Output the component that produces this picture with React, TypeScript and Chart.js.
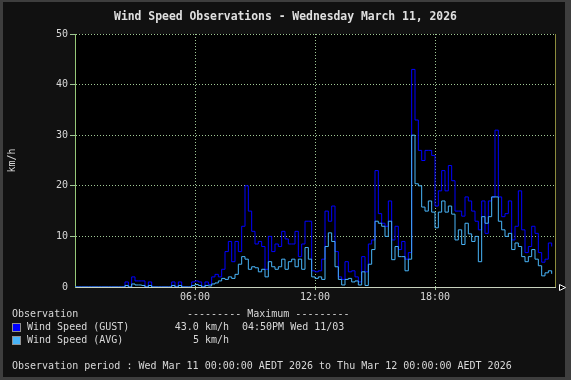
import { useEffect, useRef } from 'react';
import { Chart, registerables } from 'chart.js';

Chart.register(...registerables);

// Wind observations every 10 minutes from 00:00 (km/h)
const gust = [
  0, 0, 0, 0, 0, 0, 0, 0, 0, 0, 0, 0, 0, 0, 0, 1, 0, 2, 1.2, 1.2,
  1.2, 0, 1, 0, 0, 0, 0, 0, 0, 1, 0, 1, 0, 0, 0, 1, 1.2, 1, 0, 1,
  0.5, 2, 2.5, 2, 3.5, 7, 9, 5, 9, 7, 12, 20, 15, 11, 8.5, 9, 8, 3.5, 10, 7,
  8.5, 8, 11, 9.5, 8.5, 8.5, 11, 6, 8.5, 13, 13, 3.2, 3, 3.2, 5.5, 15, 13, 16, 7, 2,
  1.5, 5, 3, 3.2, 2, 1, 6, 3, 8.5, 9.3, 23, 14.5, 12.6, 12, 17, 9.3, 12, 7.4, 9, 5.5,
  6.8, 43, 33, 27, 25, 27, 27, 26, 16, 19, 23, 19, 24, 21, 15, 15, 14, 17.8, 17, 15,
  13, 11.3, 17, 10.6, 17, 17.8, 31, 17.8, 13.9, 14.5, 17, 9.3, 12, 19, 11.3, 6.8, 8, 12, 10.6, 6.8,
  4.9, 5.5, 8.7, 8,
];

const avg = [
  0, 0, 0, 0, 0, 0, 0, 0, 0, 0, 0, 0, 0, 0, 0, 0.3, 0, 0.6, 0.4, 0.4,
  0.3, 0, 0.3, 0, 0, 0, 0, 0, 0, 0.3, 0, 0.3, 0, 0, 0, 0.3, 0.5, 0.3, 0, 0.3,
  0.2, 0.6, 0.8, 1.2, 1.7, 1.5, 2, 1.7, 2.5, 4.5, 6, 5.5, 3.5, 4, 3.8, 3, 3.5, 2, 5, 4,
  3.5, 4, 5.5, 3.5, 5, 5.5, 4, 5.5, 3.5, 7.8, 5.5, 2, 1.7, 2, 1.5, 8, 10.7, 9, 4, 1.5,
  0.4, 1.5, 1.7, 1, 1.2, 0.4, 3, 0.3, 4.5, 7.4, 13, 12.6, 12, 10, 13, 5.4, 8, 6, 6, 3.2,
  5.5, 30, 20.4, 20, 15.8, 15, 17, 14.8, 11.7, 14.8, 17, 14.8, 16, 14.4, 9.3, 11.3, 8.4, 12.6, 10.5, 9,
  10, 5, 13.9, 12.6, 13.9, 17.8, 17.8, 13, 11.3, 10, 10.6, 7.4, 8.7, 8, 6, 5, 6, 7.4, 5.5, 4.2,
  2.2, 2.8, 3.2, 2.6,
];

const HOURS_PER_SAMPLE = 1 / 6;
const xTickLabels: Record<number, string> = { 6: '06:00', 12: '12:00', 18: '18:00' };

const TITLE = 'Wind Speed Observations - Wednesday March 11, 2026';
const Y_TITLE = 'km/h';
const GUST_LABEL = 'Wind Speed (GUST)';
const AVG_LABEL = 'Wind Speed (AVG)';
const GUST_MAX = '43.0 km/h';
const GUST_MAX_TIME = '04:50PM Wed 11/03';
const AVG_MAX = '5 km/h';
const PERIOD = 'Observation period : Wed Mar 11 00:00:00 AEDT 2026 to Thu Mar 12 00:00:00 AEDT 2026';

const GUST_COLOR = '#0000ff';
const AVG_COLOR = '#48b4f8';
const GRID_COLOR = 'rgb(160,200,150)';
const TEXT_COLOR = '#d8d8d8';
const MONO = '"DejaVu Sans Mono", monospace';

const framePlugin = {
  id: 'frame',
  beforeDraw(chart: any) {
    const { ctx, width, height, chartArea } = chart;
    ctx.save();
    ctx.fillStyle = '#3e3e3e';
    ctx.fillRect(0, 0, width, height);
    ctx.fillStyle = '#111111';
    ctx.fillRect(3, 2, width - 9, height - 5);
    ctx.fillStyle = '#000000';
    ctx.fillRect(chartArea.left, chartArea.top, chartArea.right - chartArea.left, chartArea.bottom - chartArea.top);
    ctx.restore();
  },
  afterDraw(chart: any) {
    const { ctx, chartArea } = chart;
    ctx.save();
    ctx.strokeStyle = '#8c8c3c';
    ctx.lineWidth = 1;
    ctx.beginPath();
    ctx.moveTo(Math.round(chartArea.right) + 0.5, chartArea.top);
    ctx.lineTo(Math.round(chartArea.right) + 0.5, chartArea.bottom);
    ctx.stroke();
    const ax = Math.round(chartArea.right) + 4.5;
    const ay = Math.round(chartArea.bottom) + 0.5;
    ctx.strokeStyle = '#ffffff';
    ctx.fillStyle = '#000000';
    ctx.beginPath();
    ctx.moveTo(ax, ay - 3);
    ctx.lineTo(ax + 6, ay);
    ctx.lineTo(ax, ay + 3);
    ctx.closePath();
    ctx.fill();
    ctx.stroke();
    ctx.restore();
  },
};

export default function App() {
  const ref = useRef<HTMLCanvasElement | null>(null);

  useEffect(() => {
    if (!ref.current) return;
    const chart = new Chart(ref.current, {
      type: 'line',
      data: {
        datasets: [
          {
            label: AVG_LABEL,
            data: avg.map((v, i) => ({ x: i * HOURS_PER_SAMPLE, y: v })),
            borderColor: AVG_COLOR,
            borderWidth: 1,
            pointRadius: 0,
            stepped: true,
            order: 1,
          },
          {
            label: GUST_LABEL,
            data: gust.map((v, i) => ({ x: i * HOURS_PER_SAMPLE, y: v })),
            borderColor: GUST_COLOR,
            borderWidth: 1,
            pointRadius: 0,
            stepped: true,
            order: 2,
          },
        ],
      },
      options: {
        animation: false,
        responsive: false,
        devicePixelRatio: 1,
        layout: { padding: { top: 34, right: 16, bottom: 0, left: 0 } },
        plugins: {
          legend: { display: false },
          title: { display: false },
          tooltip: { enabled: false },
        },
        scales: {
          x: {
            type: 'linear',
            min: 0,
            max: 24,
            afterFit: (s: any) => { s.height = 93; },
            ticks: {
              stepSize: 6,
              autoSkip: false,
              maxRotation: 0,
              padding: 1,
              color: TEXT_COLOR,
              font: { family: MONO, size: 10 },
              callback: (v: any) => xTickLabels[v] ?? '',
            },
            grid: {
              color: (c: any) => (c.tick && (c.tick.value === 0 || c.tick.value === 24) ? 'rgba(0,0,0,0)' : GRID_COLOR),
              tickLength: 3,
            },
            border: { display: true, color: 'rgb(200,210,190)', width: 1, dash: [1, 2] },
          },
          y: {
            min: 0,
            max: 50,
            afterFit: (s: any) => { s.width = 75; },
            ticks: {
              stepSize: 10,
              padding: 2,
              color: TEXT_COLOR,
              font: { family: MONO, size: 10 },
            },
            grid: {
              color: (c: any) => (c.tick && c.tick.value === 0 ? 'rgba(0,0,0,0)' : GRID_COLOR),
              tickLength: 5,
            },
            border: { display: true, color: 'rgb(150,200,120)', width: 1, dash: [1, 2] },
            title: {
              display: true,
              text: Y_TITLE,
              color: TEXT_COLOR,
              font: { family: MONO, size: 10 },
              padding: { top: 6, bottom: 0 },
            },
          },
        },
      },
      plugins: [framePlugin],
    });
    return () => chart.destroy();
  }, []);

  const text: any = {
    position: 'absolute',
    fontFamily: MONO,
    fontSize: '10px',
    lineHeight: '12px',
    color: TEXT_COLOR,
    whiteSpace: 'pre',
    margin: 0,
  };
  const swatch = (top: number, color: string): any => ({
    position: 'absolute',
    left: 12,
    top,
    width: 7,
    height: 7,
    background: color,
    border: '1px solid #909090',
  });

  return (
    <div style={{ position: 'absolute', left: 0, top: 0, width: 571, height: 380, overflow: 'hidden' }}>
      <canvas ref={ref} width={571} height={380} style={{ display: 'block', width: 571, height: 380 }} />
      <div style={{ ...text, left: 0, top: 8, width: 571, textAlign: 'center', fontSize: '11.4px', lineHeight: '16px', fontWeight: 'bold', color: '#e0e0e0' }}>{TITLE}</div>
      <div style={{ ...text, left: 12, top: 308 }}>Observation</div>
      <div style={{ ...text, left: 187, top: 308 }}>--------- Maximum ---------</div>
      <div style={swatch(323, GUST_COLOR)} />
      <div style={{ ...text, left: 27, top: 321 }}>{GUST_LABEL}</div>
      <div style={{ ...text, left: 129, width: 100, textAlign: 'right', top: 321 }}>{GUST_MAX}</div>
      <div style={{ ...text, left: 242, top: 321 }}>{GUST_MAX_TIME}</div>
      <div style={swatch(336, AVG_COLOR)} />
      <div style={{ ...text, left: 27, top: 334 }}>{AVG_LABEL}</div>
      <div style={{ ...text, left: 129, width: 100, textAlign: 'right', top: 334 }}>{AVG_MAX}</div>
      <div style={{ ...text, left: 12, top: 360 }}>{PERIOD}</div>
    </div>
  );
}
